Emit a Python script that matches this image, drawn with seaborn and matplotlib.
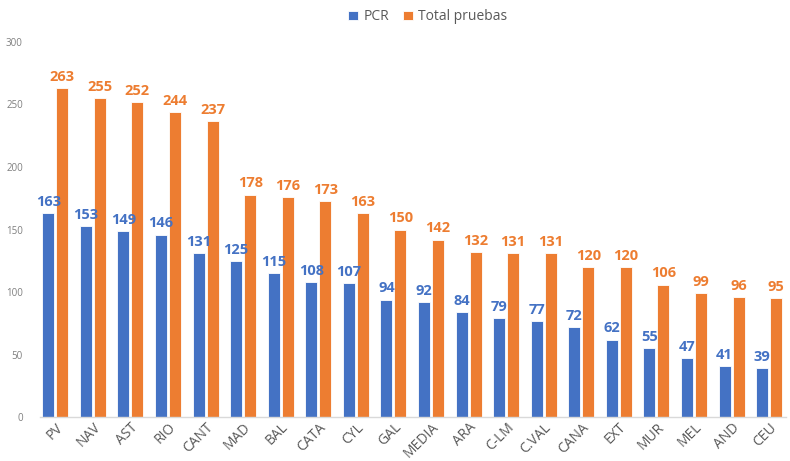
import numpy as np
import pandas as pd
import matplotlib
matplotlib.use('Agg')
import matplotlib.pyplot as plt
import seaborn as sns

# datos
regiones = ['PV', 'NAV', 'AST', 'RIO', 'CANT', 'MAD', 'BAL', 'CATA', 'CYL', 'GAL',
            'MEDIA', 'ARA', 'C-LM', 'C.VAL', 'CANA', 'EXT', 'MUR', 'MEL', 'AND', 'CEU']
pcr = [163, 153, 149, 146, 131, 125, 115, 108, 107, 94,
       92, 84, 79, 77, 72, 62, 55, 47, 41, 39]
total = [263, 255, 252, 244, 237, 178, 176, 173, 163, 150,
         142, 132, 131, 131, 120, 120, 106, 99, 96, 95]
series = ['PCR', 'Total pruebas']

azul = '#4472C4'
naranja = '#ED7D31'
gris = '#595959'

df = pd.DataFrame({'region': regiones * 2,
                   'valor': pcr + total,
                   'serie': [series[0]] * len(regiones) + [series[1]] * len(regiones)})

sns.set_style('white')
plt.rcParams['font.family'] = ['Open Sans', 'DejaVu Sans']

fig = plt.figure(figsize=(7.9, 4.61), dpi=100)
ax = fig.add_axes([0.05, 0.095, 0.945, 0.814])

sns.barplot(data=df, x='region', y='valor', hue='serie', order=regiones,
            hue_order=series, palette=[azul, naranja], saturation=1,
            width=0.75, gap=0.15, edgecolor='white', linewidth=0.6, ax=ax)

# etiquetas de valor
for cont, col in zip(ax.containers, [azul, naranja]):
    ax.bar_label(cont, padding=3, color=col, fontsize=10.5, fontweight='bold')

ax.set_ylim(0, 300)
ax.set_yticks(range(0, 301, 50))
ax.set_xlim(-0.42, 19.45)
ax.set_xlabel('')
ax.set_ylabel('')
ax.tick_params(axis='y', labelsize=7, colors='#7f7f7f', length=0, pad=12)
ax.tick_params(axis='x', labelsize=10, colors=gris, length=0, pad=2)
for lbl in ax.get_xticklabels():
    lbl.set_rotation(45)
    lbl.set_ha('right')
    lbl.set_rotation_mode('anchor')

for s in ['top', 'right', 'left']:
    ax.spines[s].set_visible(False)
ax.spines['bottom'].set_color('#d9d9d9')
ax.spines['bottom'].set_linewidth(1)

leg = ax.legend(loc='upper center', bbox_to_anchor=(0.52, 1.12), ncol=2,
                frameon=False, fontsize=10, handlelength=0.7, handleheight=0.7,
                handletextpad=0.4, columnspacing=1.0)
for t in leg.get_texts():
    t.set_color(gris)

fig.savefig('out.png', dpi=100)
